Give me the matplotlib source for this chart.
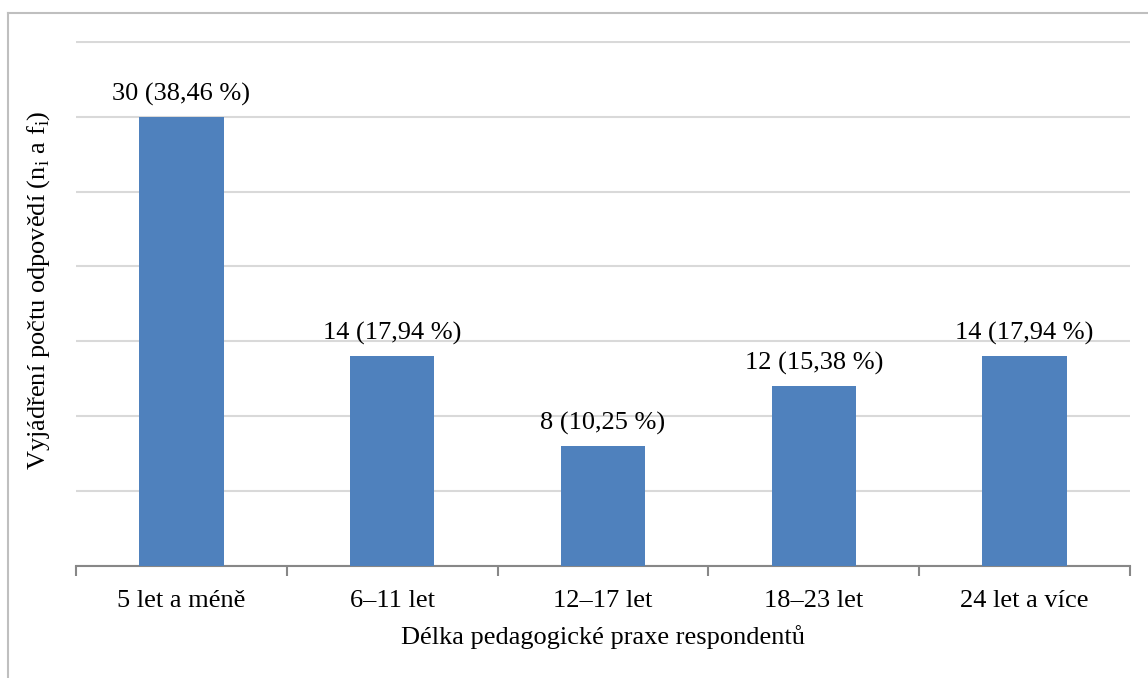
import matplotlib.pyplot as plt
from matplotlib.lines import Line2D

categories = ["5 let a méně", "6–11 let", "12–17 let", "18–23 let", "24 let a více"]
counts = [30, 14, 8, 12, 14]
labels = ["30 (38,46 %)", "14 (17,94 %)", "8 (10,25 %)", "12 (15,38 %)", "14 (17,94 %)"]

plt.rcParams['font.family'] = ['Liberation Serif', 'DejaVu Serif']
plt.rcParams['mathtext.fontset'] = 'custom'
plt.rcParams['mathtext.rm'] = 'Liberation Serif'

fig = plt.figure(figsize=(11.48, 6.78), dpi=100)
ax = fig.add_axes([76 / 1148, 1 - 566 / 678, (1130 - 76) / 1148, (566 - 41) / 678])

x = list(range(len(categories)))
bars = ax.bar(x, counts, width=0.4, color="#4F81BD", zorder=3)

for b, lab in zip(bars, labels):
    ax.annotate(lab, (b.get_x() + b.get_width() / 2, b.get_height()),
                xytext=(0, 8), textcoords="offset points",
                ha="center", va="bottom", fontsize=19)

ax.set_xlim(-0.5, len(categories) - 0.5)
ax.set_ylim(0, 35.05)
ax.set_yticks(range(0, 36, 5))
ax.set_yticklabels([])
ax.tick_params(axis="y", length=0)
ax.grid(axis="y", color="#D9D9D9", linewidth=1.5, zorder=0)

ax.set_xticks(x)
ax.set_xticklabels(categories, fontsize=19)
ax.set_xticks([i - 0.5 for i in range(len(categories) + 1)], minor=True)
ax.tick_params(axis="x", which="major", length=0, pad=17)
ax.tick_params(axis="x", which="minor", length=7, color="#878787", width=1.5)

for s in ["top", "right", "left"]:
    ax.spines[s].set_visible(False)
ax.spines["bottom"].set_color("#878787")
ax.spines["bottom"].set_linewidth(1.5)

ax.set_xlabel("Délka pedagogické praxe respondentů", fontsize=19, labelpad=10)
ax.set_ylabel(r"Vyjádření počtu odpovědí (n$_\mathregular{i}$ a f$_\mathregular{i}$)",
              fontsize=19, labelpad=14)
ax.yaxis.label.set_y(0.525)

# frame of the original chart (only top and left edges are visible)
fig.add_artist(Line2D([8 / 1148, 1], [1 - 13 / 678, 1 - 13 / 678],
                      transform=fig.transFigure, color="#BFBFBF", linewidth=1.5))
fig.add_artist(Line2D([8 / 1148, 8 / 1148], [0, 1 - 13 / 678],
                      transform=fig.transFigure, color="#BFBFBF", linewidth=1.5))

fig.savefig("out.png", dpi=100)
